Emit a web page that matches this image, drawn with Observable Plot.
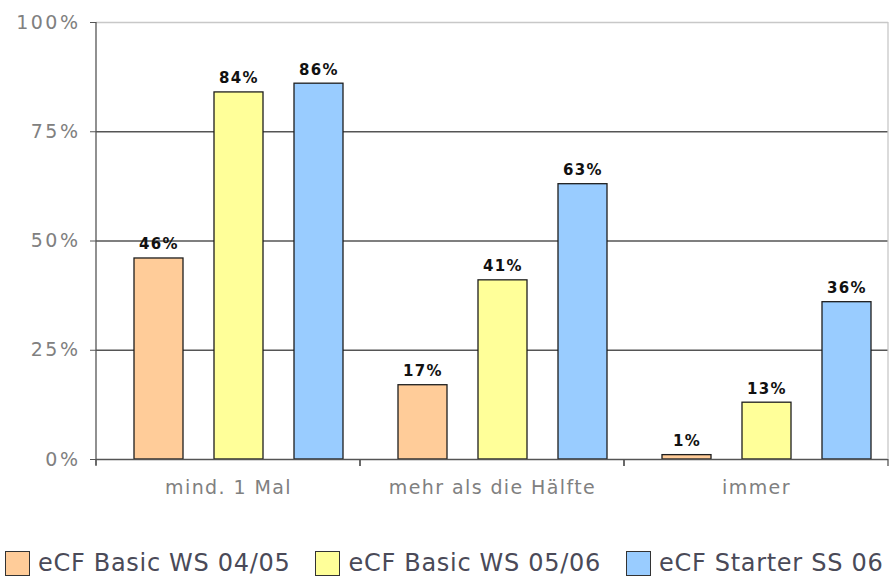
<!DOCTYPE html>
<html>
<head>
<meta charset="utf-8">
<script src="https://cdn.jsdelivr.net/npm/d3@7"></script>
<script src="https://cdn.jsdelivr.net/npm/@observablehq/plot@0.6"></script>
<style>
  html, body { margin: 0; padding: 0; background: #fff; }
  body { width: 896px; height: 576px; overflow: hidden; font-family: "DejaVu Sans", Verdana, sans-serif; }
  #chart svg { display: block; }
  #chart svg [aria-label="y-axis tick label"] text { letter-spacing: 2.5px; }
  #chart svg [aria-label="fx-axis tick label"] text { letter-spacing: 1.4px; }
  #chart svg [aria-label="text"] text { letter-spacing: 1.3px; }
  .legend { display: flex; align-items: center; margin-top: 40px; padding-left: 5px; gap: 25px; }
  .legend .item { display: flex; align-items: center; gap: 8px; font-size: 24px; line-height: 26px; letter-spacing: 0.7px; color: #4a4a58; white-space: nowrap; }
  .legend .sw { width: 25px; height: 25px; border: 1px solid #333; box-sizing: border-box; }
</style>
</head>
<body>
<div id="chart"></div>
<div class="legend" id="legend"></div>
<script>
// Survey categories (x groups) and the three course cohorts (series)
const groups = ["mind. 1 Mal", "mehr als die Hälfte", "immer"];
const series = ["eCF Basic WS 04/05", "eCF Basic WS 05/06", "eCF Starter SS 06"];

// Share of students per category, in percent
const basic0405 = [46, 17, 1];
const basic0506 = [84, 41, 13];
const starter06 = [86, 63, 36];

const yTicks = [0, 25, 50, 75, 100];
const colors = ["#FFCC99", "#FFFF99", "#99CCFF"];

const seriesValues = [basic0405, basic0506, starter06];
const rows = [];
groups.forEach((g, gi) => {
  series.forEach((s, si) => rows.push({group: g, series: s, value: seriesValues[si][gi]}));
});

const font = "DejaVu Sans, Verdana, sans-serif";

const chart = Plot.plot({
  width: 896,
  height: 510,
  marginTop: 22,
  marginLeft: 95,
  marginRight: 8,
  marginBottom: 51,
  style: {fontFamily: font, background: "#fff"},
  fx: {domain: groups, padding: 0, label: null},
  x: {domain: series, paddingInner: 0.3875, paddingOuter: 0.34375, align: 0.69, axis: null},
  y: {domain: [0, 100], label: null},
  color: {domain: series, range: colors},
  marks: [
    Plot.ruleY([25, 50, 75], {stroke: "#555", strokeWidth: 1.3}),
    Plot.ruleY([100], {stroke: "#c8c8c8", strokeWidth: 1.3}),
    Plot.barY(rows, {fx: "group", x: "series", y: "value", fill: "series", stroke: "#1e1e1e", strokeWidth: 1.3}),
    Plot.text(rows, {
      fx: "group", x: "series", y: "value",
      text: d => d.value + "%",
      lineAnchor: "bottom", dy: -9,
      fontWeight: "bold", fontSize: 15, fill: "#111"
    }),
    Plot.ruleY([0], {stroke: "#555", strokeWidth: 1.3}),
    Plot.axisY({
      ticks: yTicks, tickFormat: d => d + "%",
      tickSize: 6, tickPadding: 10, fontSize: 19,
      stroke: "#555", fill: "#808080", label: null
    }),
    Plot.axisFx({
      anchor: "bottom", tickSize: 0, tickPadding: 21,
      fontSize: 19, fill: "#808080", label: null
    })
  ]
});

document.getElementById("chart").appendChild(chart);

// Axis line, right border and group separator ticks, placed from the plot's own scales
const fx = chart.scale("fx");
const y = chart.scale("y");
const svg = d3.select(chart);
const left = fx.apply(groups[0]);
const right = fx.apply(groups[groups.length - 1]) + fx.bandwidth;
const yTop = y.apply(100), yBase = y.apply(0);
const deco = svg.append("g").attr("fill", "none").attr("stroke-width", 1.3);
deco.append("line")
  .attr("x1", right).attr("x2", right).attr("y1", yTop).attr("y2", yBase)
  .attr("stroke", "#c8c8c8");
deco.append("line")
  .attr("x1", left).attr("x2", left).attr("y1", yTop).attr("y2", yBase + 6)
  .attr("stroke", "#555");
groups.forEach(g => {
  const xs = [fx.apply(g), fx.apply(g) + fx.bandwidth];
  xs.forEach(xv => deco.append("line")
    .attr("x1", xv).attr("x2", xv).attr("y1", yBase).attr("y2", yBase + 7)
    .attr("stroke", "#555"));
});

// Legend below the chart
const legend = d3.select("#legend");
series.forEach((s, i) => {
  const item = legend.append("div").attr("class", "item");
  item.append("div").attr("class", "sw").style("background", colors[i]);
  item.append("span").text(s);
});
</script>
</body>
</html>
